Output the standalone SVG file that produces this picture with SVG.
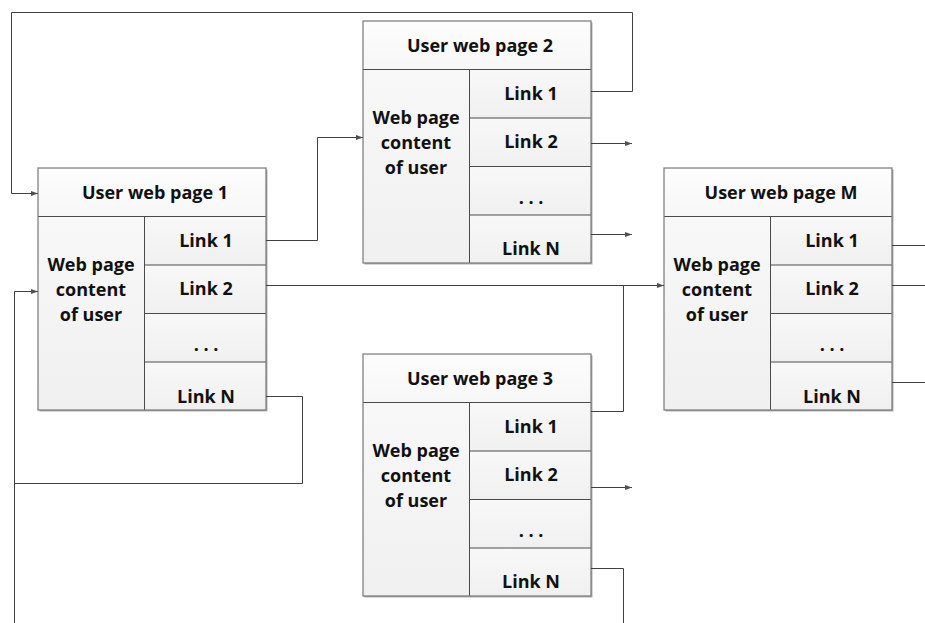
<svg xmlns="http://www.w3.org/2000/svg" width="925" height="623" viewBox="0 0 925 623">
<style>
  .t { font-family: "Open Sans", Lato, "Liberation Sans", sans-serif; font-weight: bold; font-size: 18px; fill: #111; text-anchor: middle; }
  .frame { fill: none; stroke: #777; stroke-width: 1.2; }
  .shadow { fill: #b0b0b0; }
  .hdr { fill: url(#gh); }
  .cell { fill: url(#gc); }
  .div { stroke: #4a4a4a; stroke-width: 1; fill: none; }
  .conn { fill: none; stroke: #404040; stroke-width: 1; }
  .arr { marker-end: url(#ah); }
</style>
<defs>
  <linearGradient id="gh" x1="0" y1="0" x2="0" y2="1">
    <stop offset="0" stop-color="#fdfdfd"/>
    <stop offset="1" stop-color="#f7f7f7"/>
  </linearGradient>
  <linearGradient id="gc" x1="0" y1="0" x2="0" y2="1">
    <stop offset="0" stop-color="#f8f8f8"/>
    <stop offset="1" stop-color="#f0f0f0"/>
  </linearGradient>
  <marker id="ah" markerUnits="userSpaceOnUse" markerWidth="8" markerHeight="6" refX="7" refY="3" orient="auto">
    <path d="M0,0.5 L7,3 L0,5.5 z" fill="#505050"/>
  </marker>
  <g id="page">
    <rect class="shadow" x="1.5" y="1.5" width="228" height="242"/>
    <rect class="hdr" x="0" y="0" width="228" height="48.5"/>
    <rect class="cell" x="0" y="48.5" width="106" height="193.5"/>
    <rect class="cell" x="106" y="48.5" width="122" height="48.5"/>
    <rect class="cell" x="106" y="97" width="122" height="48.5"/>
    <rect class="cell" x="106" y="145.5" width="122" height="48.5"/>
    <rect class="cell" x="106" y="194" width="122" height="48"/>
    <path class="div" d="M0 48.5 H228 M106.5 48.5 V242 M106 97 H228 M106 145.5 H228 M106 194 H228"/>
    <rect class="frame" x="0" y="0" width="228" height="242"/>
    <text class="t" x="53" y="103">Web page</text>
    <text class="t" x="53" y="128">content</text>
    <text class="t" x="53" y="153">of user</text>
    <text class="t" x="168" y="183">. . .</text>
  </g>
</defs>

<g id="page1" transform="translate(38,168)">
  <use href="#page"/>
  <text class="t" x="117" y="31">User web page 1</text>
  <text class="t" x="168" y="79">Link 1</text>
  <text class="t" x="168" y="127">Link  2</text>
  <text class="t" x="168" y="235">Link  N</text>
</g>

<g id="page2" transform="translate(363,21)">
  <use href="#page"/>
  <text class="t" x="117" y="31">User web page 2</text>
  <text class="t" x="168" y="79">Link 1</text>
  <text class="t" x="168" y="127">Link 2</text>
  <text class="t" x="168" y="234">Link N</text>
</g>

<g id="page3" transform="translate(363,354)">
  <use href="#page"/>
  <text class="t" x="117" y="31">User web page 3</text>
  <text class="t" x="168" y="79">Link 1</text>
  <text class="t" x="168" y="127">Link 2</text>
  <text class="t" x="168" y="234">Link N</text>
</g>

<g id="pageM" transform="translate(664,168)">
  <use href="#page"/>
  <text class="t" x="117" y="31">User web page M</text>
  <text class="t" x="168" y="79">Link 1</text>
  <text class="t" x="168" y="127">Link 2</text>
  <text class="t" x="168" y="235">Link  N</text>
</g>

<g id="connectors">
  <path class="conn arr" d="M591 91.5 H632.5 V12.5 H11.5 V193.5 H38"/>
  <path class="conn arr" d="M266 240.5 H317.5 V137.5 H363"/>
  <path class="conn arr" d="M266 285.5 H664"/>
  <path class="conn" d="M591 411.5 H623.5 V285.5"/>
  <path class="conn" d="M266 396.5 H302.5 V483.5 H14.5"/>
  <path class="conn arr" d="M14.5 623 V291.5 H38"/>
  <path class="conn" d="M591 568.5 H623.5 V623"/>
  <path class="conn arr" d="M591 143.5 H632"/>
  <path class="conn arr" d="M591 234.5 H632"/>
  <path class="conn arr" d="M591 487.5 H632"/>
  <path class="conn" d="M892 245.5 H925"/>
  <path class="conn" d="M892 285.5 H925"/>
  <path class="conn" d="M892 382.5 H925"/>
</g>
</svg>
